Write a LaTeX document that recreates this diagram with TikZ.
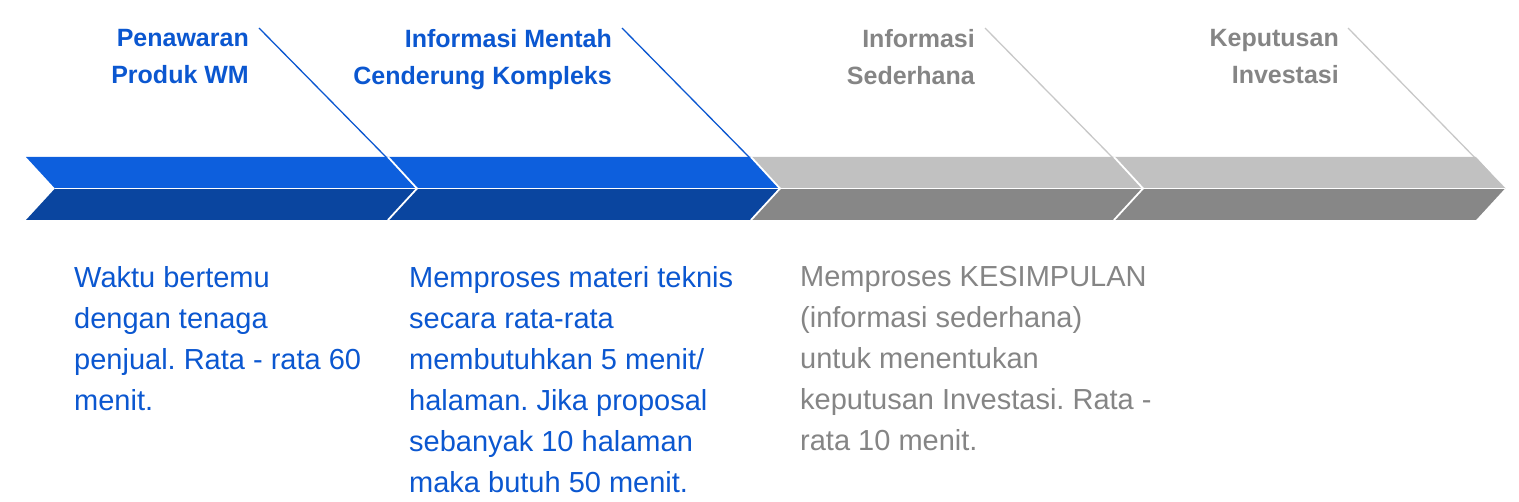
\documentclass[tikz,border=0pt]{standalone}
\usepackage{fontspec}
\setmainfont{Liberation Sans}
\frenchspacing
\definecolor{btop}{HTML}{0D5FDD}
\definecolor{bbot}{HTML}{0A459F}
\definecolor{gtop}{HTML}{C1C1C1}
\definecolor{gbot}{HTML}{878787}
\definecolor{btext}{HTML}{0B57D0}
\definecolor{gtext}{HTML}{858585}
\definecolor{gline}{HTML}{C8C8C8}
\begin{document}
\begin{tikzpicture}[x=1pt,y=-1pt,
  ttl/.style={font=\fontsize{25}{37}\selectfont\bfseries,align=right,anchor=north east,inner sep=0pt},
  body/.style={font=\fontsize{29}{41}\selectfont,align=left,anchor=north west,inner sep=0pt},
  lead/.style={line width=1.3pt}]
\useasboundingbox (0,0) rectangle (1519,502);
% geometry
\def\yt{157}\def\ym{188.5}\def\yb{220}\def\off{29}
\coordinate (n0) at (55,\ym);
\coordinate (t0) at (26,\yt);
\coordinate (b0) at (26,\yb);
\foreach \i/\x in {1/417,2/780,3/1143,4/1505}{
  \coordinate (n\i) at (\x,\ym);
  \coordinate (t\i) at (\x-\off,\yt);
  \coordinate (b\i) at (\x-\off,\yb);
}
% leader lines
\coordinate (l1) at (259,28);
\coordinate (l2) at (622,28);
\coordinate (l3) at (985,28);
\coordinate (l4) at (1348,28);
\draw[lead,btext] (l1) -- (n1);
\draw[lead,btext] (l2) -- (n2);
\draw[lead,gline] (l3) -- (n3);
\draw[lead,gline] (l4) -- (n4);
% chevrons
\foreach \i/\j/\ct/\cb in {0/1/btop/bbot,1/2/btop/bbot,2/3/gtop/gbot,3/4/gtop/gbot}{
  \fill[\ct] (t\i) -- (t\j) -- (n\j) -- (n\i) -- cycle;
  \fill[\cb] (n\i) -- (n\j) -- (b\j) -- (b\i) -- cycle;
}
% white separators
\foreach \i in {1,2,3}{
  \draw[white,line width=1.8pt] (t\i) -- (n\i) -- (b\i);
}
\draw[white,line width=1.8pt] (n0) -- (n4);
% titles
\node[ttl,text=btext] (h1) at (249,29) {Penawaran\\Produk WM};
\node[ttl,text=btext] (h2) at (612,29) {Informasi Mentah\\Cenderung Kompleks};
\node[ttl,text=gtext] (h3) at (975,29) {Informasi\\Sederhana};
\node[ttl,text=gtext] (h4) at (1339,29) {Keputusan\\Investasi};
% bodies
\node[body,text=btext] (d1) at (74,266) {Waktu bertemu\\dengan tenaga\\penjual. Rata - rata 60\\menit.};
\node[body,text=btext] (d2) at (409,266) {Memproses materi teknis\\secara rata-rata\\membutuhkan 5 menit/\\halaman. Jika proposal\\sebanyak 10 halaman\\maka butuh 50 menit.};
\node[body,text=gtext] (d3) at (800,266) {Memproses KESIMPULAN\\(informasi sederhana)\\untuk menentukan\\keputusan Investasi. Rata -\\rata 10 menit.};
\end{tikzpicture}
\end{document}
